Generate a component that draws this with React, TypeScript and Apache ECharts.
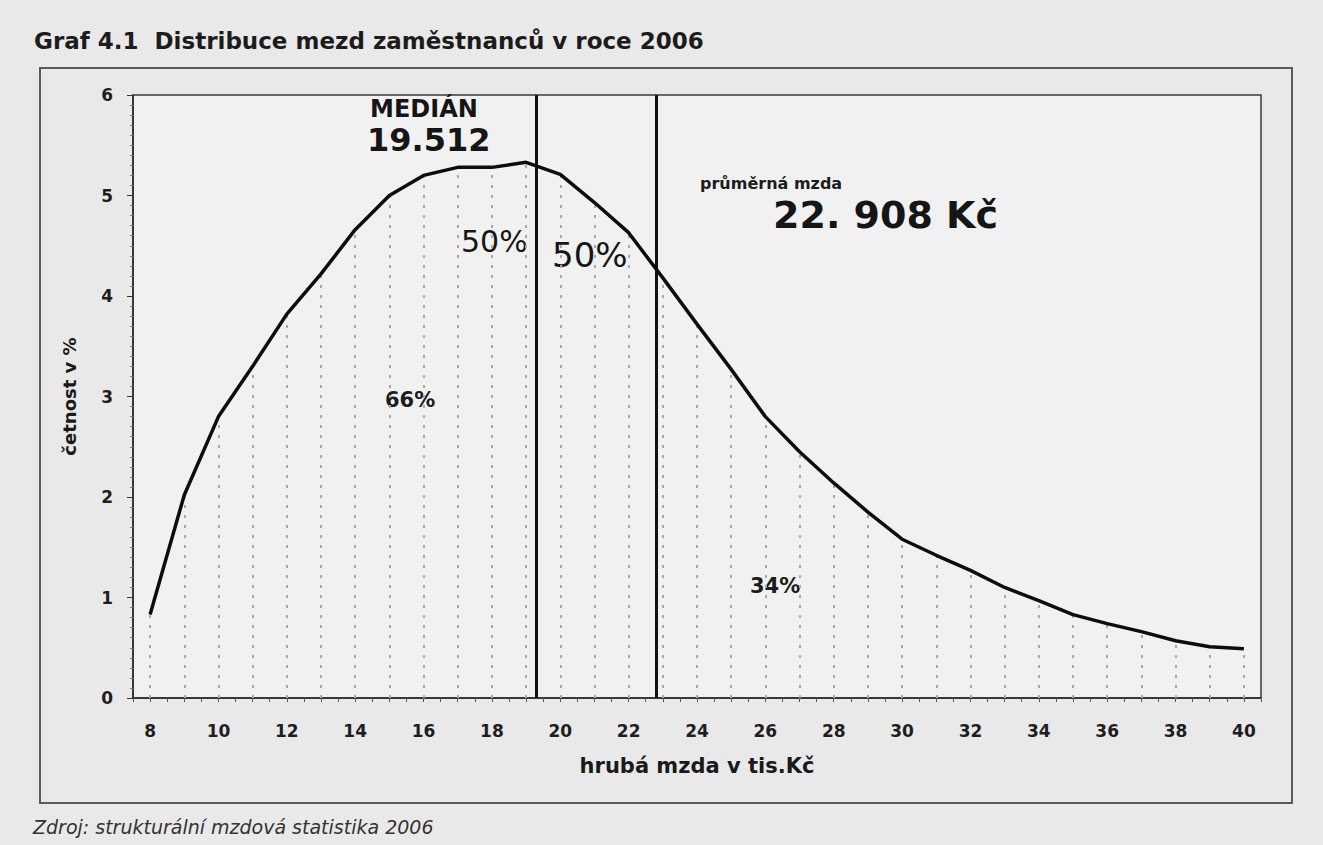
import React, { useEffect, useRef } from 'react';
import * as echarts from 'echarts';

// hrubá mzda v tis. Kč (x) and četnost v % (y)
const wages = [8, 9, 10, 11, 12, 13, 14, 15, 16, 17, 18, 19, 20, 21, 22, 23, 24, 25, 26, 27, 28, 29, 30, 31, 32, 33, 34, 35, 36, 37, 38, 39, 40];
const frequency = [0.83, 2.02, 2.8, 3.3, 3.82, 4.22, 4.66, 5.0, 5.2, 5.28, 5.28, 5.33, 5.21, 4.93, 4.63, 4.18, 3.72, 3.27, 2.8, 2.45, 2.14, 1.85, 1.58, 1.42, 1.27, 1.1, 0.97, 0.83, 0.74, 0.66, 0.57, 0.51, 0.49];
const xTickLabels = [8, 10, 12, 14, 16, 18, 20, 22, 24, 26, 28, 30, 32, 34, 36, 38, 40];
const xTickMarks = [7.5, 8, 8.5, 9, 9.5, 10, 10.5, 11, 11.5, 12, 12.5, 13, 13.5, 14, 14.5, 15, 15.5, 16, 16.5, 17, 17.5, 18, 18.5, 19, 19.5, 20, 20.5, 21, 21.5, 22, 22.5, 23, 23.5, 24, 24.5, 25, 25.5, 26, 26.5, 27, 27.5, 28, 28.5, 29, 29.5, 30, 30.5, 31, 31.5, 32, 32.5, 33, 33.5, 34, 34.5, 35, 35.5, 36, 36.5, 37, 37.5, 38, 38.5, 39, 39.5, 40, 40.5];
const yTicks = [0, 1, 2, 3, 4, 5, 6];
// hand-drawn vertical lines (median 19.512, mean 22.908), as drawn in the picture
const medianLineAt = 19.3;
const meanLineAt = 22.8;

const titleText = 'Graf 4.1  Distribuce mezd zaměstnanců v roce 2006';
const sourceText = 'Zdroj: strukturální mzdová statistika 2006';
const xName = 'hrubá mzda v tis.Kč';
const yName = 'četnost v %';

export default function App() {
  const ref = useRef<HTMLDivElement>(null);
  useEffect(() => {
    if (!ref.current) return;
    const chart = echarts.init(ref.current, null, { renderer: 'svg' });
    const data = wages.map((w, i) => [w, frequency[i]]);
    const dropLines = wages.map((w, i) => [
      { coord: [w, 0], lineStyle: { color: '#a8a8a8', width: 2, type: [3, 7] } },
      { coord: [w, frequency[i]] },
    ]);
    const hand = 'DejaVu Sans, sans-serif';
    const printed = 'DejaVu Sans, sans-serif';
    chart.setOption({
      animation: false,
      backgroundColor: '#e9e9e9',
      textStyle: { fontFamily: printed },
      grid: {
        left: 133,
        right: 62,
        top: 95,
        bottom: 147,
        show: true,
        backgroundColor: '#f1f1f1',
        borderColor: '#3a3a3a',
        borderWidth: 1.5,
      },
      xAxis: {
        type: 'value',
        min: 7.5,
        max: 40.5,
        name: xName,
        nameLocation: 'middle',
        nameGap: 57,
        nameTextStyle: { fontSize: 21, fontWeight: 'bold', color: '#1a1a1a' },
        axisLine: { show: true, lineStyle: { color: '#2a2a2a', width: 1.5 } },
        axisTick: { show: true, length: 4, customValues: xTickMarks, lineStyle: { color: '#555' } },
        axisLabel: { customValues: xTickLabels, margin: 24, fontSize: 17, fontWeight: 'bold', color: '#1e1e1e' },
        splitLine: { show: false },
      },
      yAxis: {
        type: 'value',
        min: 0,
        max: 6,
        interval: 1,
        name: yName,
        nameLocation: 'middle',
        nameGap: 55,
        nameTextStyle: { fontSize: 18, fontWeight: 'bold', color: '#1a1a1a' },
        axisLine: { show: true, lineStyle: { color: '#2a2a2a', width: 1.5 } },
        axisTick: { show: true, length: 6, lineStyle: { color: '#333' } },
        minorTick: { show: true, splitNumber: 10, length: 3, lineStyle: { color: '#777' } },
        axisLabel: { margin: 20, fontSize: 17, fontWeight: 'bold', color: '#1e1e1e', customValues: yTicks },
        splitLine: { show: false },
      },
      series: [
        {
          type: 'line',
          data,
          showSymbol: false,
          symbol: 'none',
          lineStyle: { color: '#0d0d0d', width: 3.5 },
          z: 5,
          markLine: {
            silent: true,
            symbol: 'none',
            label: { show: false },
            data: [
              ...dropLines,
              { xAxis: medianLineAt, lineStyle: { color: '#111', width: 3, type: 'solid' } },
              { xAxis: meanLineAt, lineStyle: { color: '#111', width: 3, type: 'solid' } },
            ],
          },
        },
      ],
      graphic: [
        { type: 'rect', shape: { x: 40, y: 68, width: 1252, height: 735 }, style: { fill: 'none', stroke: '#5a5a5a', lineWidth: 2 }, z: -1 },
        { type: 'text', x: 34, y: 29, style: { text: titleText, font: `bold 23px ${printed}`, fill: '#1c1c1c' } },
        { type: 'text', x: 33, y: 817, style: { text: sourceText, font: `italic 19px ${printed}`, fill: '#333' } },
        { type: 'text', x: 700, y: 175, style: { text: 'průměrná mzda', font: `bold 16px ${printed}`, fill: '#1c1c1c' } },
        { type: 'text', x: 385, y: 389, style: { text: '66%', font: `bold 21px ${printed}`, fill: '#1c1c1c' } },
        { type: 'text', x: 750, y: 575, style: { text: '34%', font: `bold 21px ${printed}`, fill: '#1c1c1c' } },
        { type: 'text', x: 370, y: 97, style: { text: 'MEDIÁN', font: `bold 24px ${hand}`, fill: '#151515' } },
        { type: 'text', x: 367, y: 124, style: { text: '19.512', font: `bold 32px ${hand}`, fill: '#151515' } },
        { type: 'text', x: 461, y: 226, style: { text: '50%', font: `30px ${hand}`, fill: '#151515' } },
        { type: 'text', x: 552, y: 238, style: { text: '50%', font: `34px ${hand}`, fill: '#151515' } },
        { type: 'text', x: 773, y: 196, style: { text: '22. 908 Kč', font: `bold 38px ${hand}`, fill: '#151515' } },
      ],
    });
    return () => chart.dispose();
  }, []);
  return <div ref={ref} style={{ position: 'fixed', left: 0, top: 0, width: 1323, height: 845 }} />;
}
